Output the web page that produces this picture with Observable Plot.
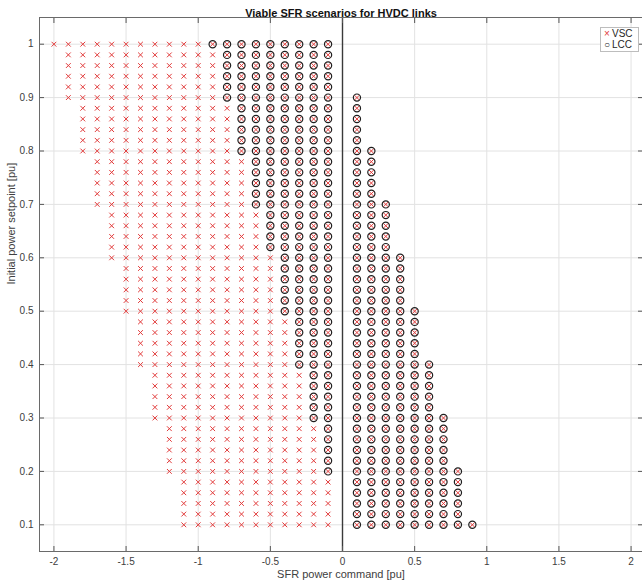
<!DOCTYPE html>
<html>
<head>
<meta charset="utf-8">
<script src="https://cdn.jsdelivr.net/npm/d3@7"></script>
<script src="https://cdn.jsdelivr.net/npm/@observablehq/plot@0.6"></script>
<style>
  html, body { margin: 0; padding: 0; background: white; }
  #wrap { position: relative; width: 642px; height: 586px; font-family: "Liberation Sans", Arial, sans-serif; }
  #legend { position: absolute; left: 600px; top: 27px; width: 37px; height: 23px; border: 1px solid #bdbdbd; background: white; font-size: 10px; color: #262626; line-height: 11px; padding-top: 0px; }
  #legend div { white-space: nowrap; }
  #legend .sym { display: inline-block; width: 10px; text-align: center; margin-left: 1px; }
</style>
</head>
<body>
<div id="wrap"></div>
<script>
// Rows of the grid (initial power setpoint, pu)
const rowY = [1.00,0.98,0.96,0.94,0.92,0.90,0.88,0.86,0.84,0.82,0.80,0.78,0.76,0.74,0.72,0.70,
  0.68,0.66,0.64,0.62,0.60,0.58,0.56,0.54,0.52,0.50,0.48,0.46,0.44,0.42,0.40,0.38,0.36,0.34,0.32,0.30,
  0.28,0.26,0.24,0.22,0.20,0.18,0.16,0.14,0.12,0.10];
// Columns of the grid (SFR power command, pu)
const colX = [-2.0,-1.9,-1.8,-1.7,-1.6,-1.5,-1.4,-1.3,-1.2,-1.1,-1.0,-0.9,-0.8,-0.7,-0.6,-0.5,-0.4,-0.3,-0.2,-0.1,
  0.1,0.2,0.3,0.4,0.5,0.6,0.7,0.8,0.9];
// Left-most viable VSC command per row
const vscMinX = [-2.0,-1.9,-1.9,-1.9,-1.9,-1.9,-1.8,-1.8,-1.8,-1.8,-1.8,-1.7,-1.7,-1.7,-1.7,-1.7,
  -1.6,-1.6,-1.6,-1.6,-1.6,-1.5,-1.5,-1.5,-1.5,-1.5,-1.4,-1.4,-1.4,-1.4,-1.4,-1.3,-1.3,-1.3,-1.3,-1.3,
  -1.2,-1.2,-1.2,-1.2,-1.2,-1.1,-1.1,-1.1,-1.1,-1.1];
// Left-most viable LCC (negative) command per row (null = none)
const lccMinX = [-0.9,-0.8,-0.8,-0.8,-0.8,-0.8,-0.7,-0.7,-0.7,-0.7,-0.7,-0.6,-0.6,-0.6,-0.6,-0.6,
  -0.5,-0.5,-0.5,-0.5,-0.4,-0.4,-0.4,-0.4,-0.4,-0.4,-0.3,-0.3,-0.3,-0.3,-0.3,-0.2,-0.2,-0.2,-0.2,-0.2,
  -0.1,-0.1,-0.1,-0.1,-0.1,null,null,null,null,null];
// Right-most viable positive command per row, both technologies (null = none)
const posMaxX = [null,null,null,null,null,0.1,0.1,0.1,0.1,0.1,0.2,0.2,0.2,0.2,0.2,0.3,
  0.3,0.3,0.3,0.3,0.4,0.4,0.4,0.4,0.4,0.5,0.5,0.5,0.5,0.5,0.6,0.6,0.6,0.6,0.6,0.7,
  0.7,0.7,0.7,0.7,0.8,0.8,0.8,0.8,0.8,0.9];

const xTicks = [-2,-1.5,-1,-0.5,0,0.5,1,1.5,2];
const yTicks = [0.1,0.2,0.3,0.4,0.5,0.6,0.7,0.8,0.9,1];
const titleText = "Viable SFR scenarios for HVDC links";
const xLabel = "SFR power command [pu]";
const yLabel = "Initial power setpoint [pu]";

const vsc = [], lcc = [];
rowY.forEach((y, i) => {
  for (const x of colX) {
    const pos = x > 0;
    const inVsc = pos ? (posMaxX[i] !== null && x <= posMaxX[i] + 1e-9) : x >= vscMinX[i] - 1e-9;
    const inLcc = pos ? (posMaxX[i] !== null && x <= posMaxX[i] + 1e-9) : (lccMinX[i] !== null && x >= lccMinX[i] - 1e-9);
    if (inVsc) vsc.push({x, y});
    if (inLcc) lcc.push({x, y});
  }
});

const fmt = d => String(d);
const chart = Plot.plot({
  width: 642, height: 586,
  marginTop: 17, marginBottom: 35, marginLeft: 39, marginRight: 0,
  x: {domain: [-2.1, 2.1], range: [39, 645]},
  y: {domain: [0.05, 1.05]},
  style: {fontFamily: "'Liberation Sans', Arial, sans-serif", fontSize: "10px", color: "#404040", background: "white"},
  marks: [
    Plot.gridX(xTicks, {stroke: "#e2e2e2", strokeOpacity: 1}),
    Plot.gridY(yTicks, {stroke: "#e2e2e2", strokeOpacity: 1}),
    Plot.ruleX([0], {stroke: "#3a3a3a", strokeWidth: 1.4}),
    Plot.dot(vsc, {x: "x", y: "y", symbol: "times", r: 2.3, stroke: "#e23b3b", strokeWidth: 1}),
    Plot.dot(lcc, {x: "x", y: "y", symbol: "circle", r: 3.6, stroke: "#1e1e1e", strokeWidth: 1.2, fill: "none"}),
    Plot.axisX(xTicks, {anchor: "bottom", tickSize: -5, tickPadding: 11, tickFormat: fmt, label: null, stroke: "#555"}),
    Plot.axisX(xTicks, {anchor: "top", tickSize: -5, tickFormat: () => "", label: null, stroke: "#555"}),
    Plot.axisY(yTicks, {anchor: "left", tickSize: -5, tickPadding: 11, tickFormat: fmt, label: null, stroke: "#555"}),
    Plot.axisY(yTicks, {anchor: "right", tickSize: -5, tickFormat: () => "", label: null, stroke: "#555"}),
    Plot.frame({stroke: "#6a6a6a"}),
    Plot.text([titleText], {frameAnchor: "top", dy: -8, text: d => d, fontWeight: "bold", fontSize: 11, fill: "#111"}),
    Plot.text([xLabel], {frameAnchor: "bottom", dy: 26, text: d => d, fontSize: 11, fill: "#404040"}),
    Plot.text([yLabel], {frameAnchor: "left", dx: -28, rotate: -90, text: d => d, fontSize: 11, fill: "#404040"})
  ]
});
const wrap = document.getElementById("wrap");
wrap.appendChild(chart);
const legend = document.createElement("div");
legend.id = "legend";
legend.innerHTML = '<div><span class="sym" style="color:#e23b3b">×</span>VSC</div><div><span class="sym" style="color:#222">○</span>LCC</div>';
wrap.appendChild(legend);
</script>
</body>
</html>
